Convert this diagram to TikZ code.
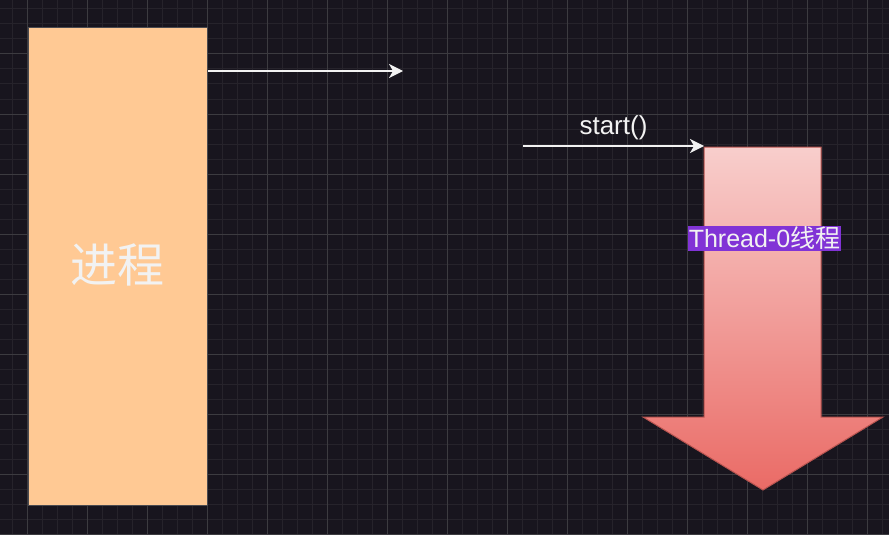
\documentclass[tikz,border=0pt]{standalone}
\usepackage{fontspec}
\setmainfont{Liberation Sans}
\newfontfamily\cjk{Noto Sans CJK SC}
\usetikzlibrary{arrows.meta}
\definecolor{bg}{HTML}{18151E}
\definecolor{gridminor}{HTML}{26232B}
\definecolor{gridmajor}{HTML}{3C3B40}
\definecolor{procfill}{HTML}{FFC994}
\definecolor{procline}{HTML}{4A4A4F}
\definecolor{thtop}{HTML}{F8CECC}
\definecolor{thbot}{HTML}{EA6B66}
\definecolor{thline}{HTML}{B85450}
\definecolor{lblbg}{HTML}{8133D6}
\definecolor{txt}{HTML}{F2F2F2}
\tikzset{
  conn/.style={draw=txt, line width=1.5pt, -{Stealth[length=14pt,width=14pt,inset=4pt]}},
  procbox/.style={draw=procline, fill=procfill, line width=1.2pt, minimum width=179pt, minimum height=478pt, inner sep=0pt, anchor=north west},
  lbl/.style={font=\fontsize{25}{28}\selectfont, text=txt, inner sep=1pt},
}
\begin{document}
\begin{tikzpicture}[x=1pt,y=-1pt]
\fill[bg] (0,0) rectangle (889,535);
\useasboundingbox (0,0) rectangle (889,535);
% minor grid
\foreach \x in {12,27,...,889} \draw[gridminor, line width=1pt] (\x,0) -- (\x,535);
\foreach \y in {9,24,...,535} \draw[gridminor, line width=1pt] (0,\y) -- (889,\y);
% major grid
\foreach \x in {27,87,...,889} \draw[gridmajor, line width=1pt] (\x,0) -- (\x,535);
\foreach \y in {54,114,...,535} \draw[gridmajor, line width=1pt] (0,\y) -- (889,\y);

% process box
\node[procbox] (proc) at (28,27) {};
\node[font=\cjk\fontsize{47}{50}\selectfont, text=txt, inner sep=0pt] (proctxt) at (117.5,265) {进程};

% arrow from process
\coordinate (pA) at (proc.north east |- 0,71);
\coordinate (pB) at (403,71);
\draw[conn] (pA) -- (pB);

% thread arrow shape
\coordinate (thtl) at (704,147);
\shade[top color=thtop, bottom color=thbot, draw=thline, line width=1pt]
  (704,147) -- (821,147) -- (821,417) -- (883,417) -- (763,490) -- (643,417) -- (704,417) -- cycle;
\node[lbl, fill=lblbg, font=\fontsize{25}{28}\selectfont] (thread) at (764.5,238) {Thread-0{\cjk 线程}};

% start() connector
\coordinate (sA) at (523,146);
\draw[conn] (sA) -- (thtl |- sA) node[pos=0.5, above=4pt, lbl, font=\fontsize{26}{28}\selectfont] (startlbl) {start()};
\end{tikzpicture}
\end{document}
